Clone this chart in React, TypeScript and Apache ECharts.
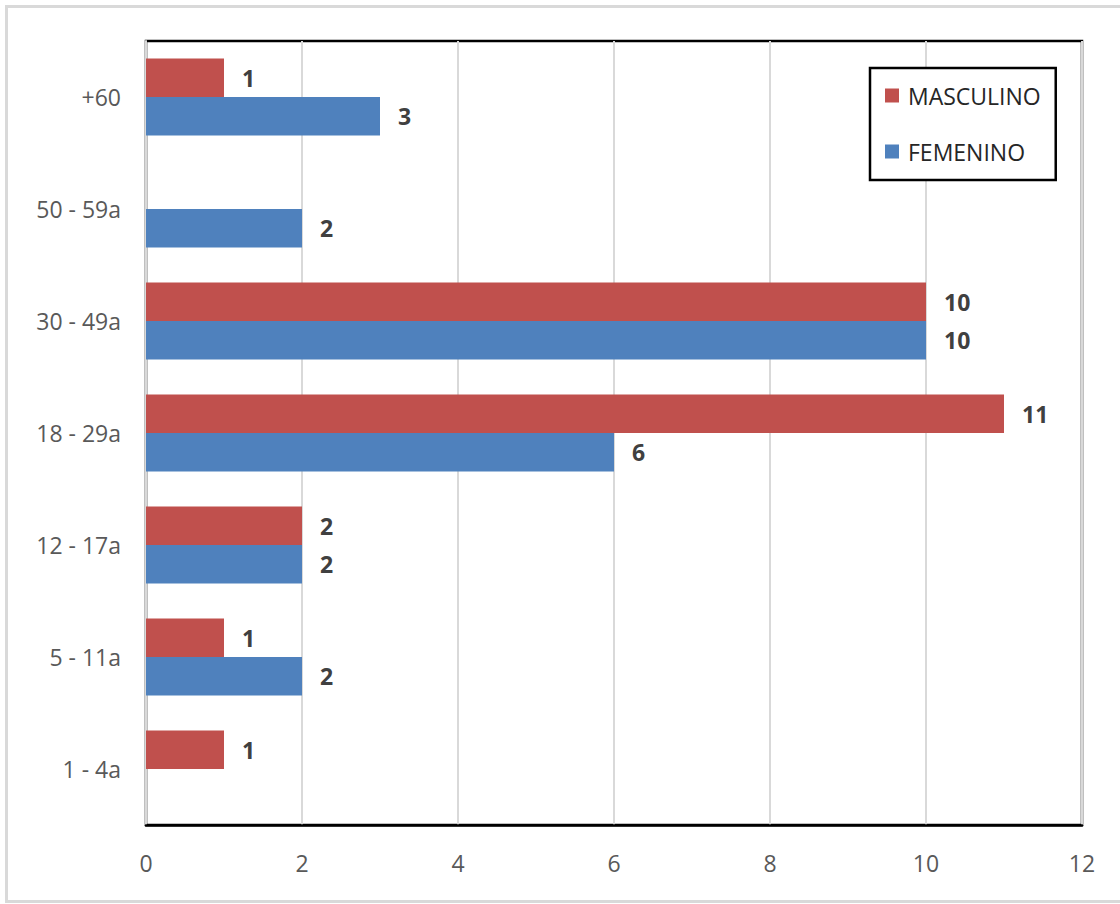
import React, { useEffect, useRef } from "react";
import * as echarts from "echarts";

const categories = ["1 - 4a", "5 - 11a", "12 - 17a", "18 - 29a", "30 - 49a", "50 - 59a", "+60"];
const masculino: (number | null)[] = [1, 1, 2, 11, 10, null, 1];
const femenino: (number | null)[] = [null, 2, 2, 6, 10, 2, 3];
const seriesNames = ["MASCULINO", "FEMENINO"];
const xTicks = { min: 0, max: 12, interval: 2 };

const FONT = "'Open Sans', 'Noto Sans', sans-serif";

export default function App() {
  const ref = useRef<HTMLDivElement>(null);
  useEffect(() => {
    if (!ref.current) return;
    const chart = echarts.init(ref.current, undefined, { renderer: "svg" });
    const label = {
      show: true,
      position: "right" as const,
      distance: 18,
      color: "#404040",
      fontFamily: FONT,
      fontWeight: "bold" as const,
      fontSize: 23,
    };
    chart.setOption({
      animation: false,
      backgroundColor: "#ffffff",
      graphic: [
        {
          type: "rect",
          shape: { x: 6.5, y: 6.5, width: 1120, height: 895 },
          style: { fill: "none", stroke: "#d9d9d9", lineWidth: 3 },
          silent: true,
          z: -1,
        },
      ],
      grid: {
        left: 146,
        top: 41,
        right: 38,
        bottom: 79,
        show: true,
        borderColor: "#000000",
        borderWidth: 2.5,
        containLabel: false,
      },
      legend: {
        data: seriesNames,
        orient: "vertical",
        left: 870,
        top: 68,
        backgroundColor: "#ffffff",
        borderColor: "#000000",
        borderWidth: 2.5,
        borderRadius: 0,
        padding: [16, 15, 17, 15],
        itemWidth: 14,
        itemHeight: 14,
        itemGap: 33,
        icon: "rect",
        textStyle: {
          color: "#262626",
          fontFamily: FONT,
          fontSize: 23,
          padding: [0, 0, 0, 4],
        },
      },
      xAxis: {
        type: "value",
        min: xTicks.min,
        max: xTicks.max,
        interval: xTicks.interval,
        axisLine: { show: true, lineStyle: { color: "#000000", width: 2.5 } },
        axisTick: { show: false },
        axisLabel: { color: "#595959", fontFamily: FONT, fontSize: 23, margin: 26 },
        splitLine: { show: true, lineStyle: { color: "#d9d9d9", width: 2 } },
      },
      yAxis: {
        type: "category",
        data: categories,
        axisLine: { show: true, lineStyle: { color: "#d9d9d9", width: 2 } },
        axisTick: { show: false },
        axisLabel: { color: "#595959", fontFamily: FONT, fontSize: 23, margin: 25 },
        splitLine: { show: false },
      },
      series: [
        {
          name: seriesNames[0],
          type: "bar",
          data: masculino,
          barWidth: 38.5,
          barGap: "0%",
          itemStyle: { color: "#c0504d" },
          label,
        },
        {
          name: seriesNames[1],
          type: "bar",
          data: femenino,
          barWidth: 38.5,
          barGap: "0%",
          itemStyle: { color: "#4f81bd" },
          label,
        },
      ],
    });
    return () => chart.dispose();
  }, []);
  return (
    <div
      ref={ref}
      style={{ position: "absolute", left: 0, top: 0, width: 1120, height: 904 }}
    />
  );
}
